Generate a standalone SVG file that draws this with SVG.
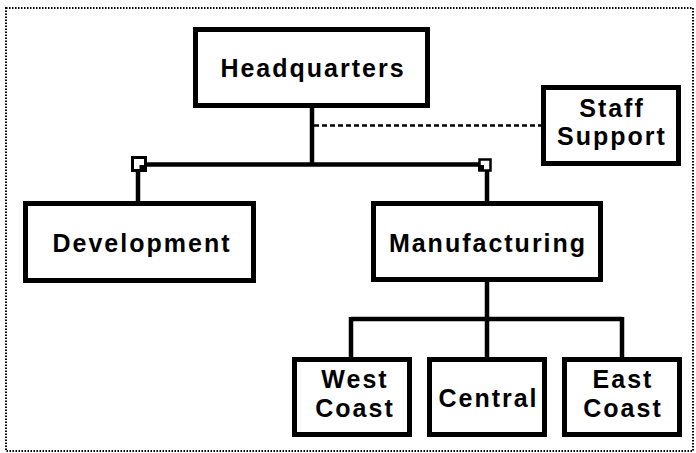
<svg xmlns="http://www.w3.org/2000/svg" width="696" height="453" viewBox="0 0 696 453">
<style>
.box{fill:#fff;stroke:#000;stroke-width:5}
.ln{stroke:#000;stroke-width:4.5;fill:none}
.dash{stroke:#000;stroke-width:2.5;stroke-dasharray:5 3;fill:none}
.border{fill:none;stroke:#000;stroke-width:2;stroke-dasharray:1.5 1.5}
text{font-family:"Liberation Sans",Arial,sans-serif;font-weight:bold;font-size:25px;letter-spacing:2px;text-anchor:middle;fill:#000}
</style>
<rect class="border" x="6" y="8" width="687" height="443"/>
<g id="connectors">
<line class="ln" x1="312" y1="106" x2="312" y2="165"/>
<line class="dash" x1="314" y1="125.5" x2="542" y2="125.5"/>
<line class="ln" x1="140" y1="164.5" x2="486" y2="164.5"/>
<line class="ln" x1="138" y1="168" x2="138" y2="203"/>
<line class="ln" x1="487" y1="168" x2="487" y2="203"/>
<rect x="132.5" y="157.5" width="13" height="13" fill="#fff" stroke="#000" stroke-width="3"/>
<rect x="139.5" y="165" width="7" height="7" fill="#000"/>
<rect x="479.5" y="159.5" width="11" height="11" fill="#fff" stroke="#000" stroke-width="2.5"/>
<rect x="478" y="165" width="6" height="6" fill="#000"/>
<line class="ln" x1="487" y1="280" x2="487" y2="319"/>
<line class="ln" x1="351" y1="319" x2="622" y2="319"/>
<line class="ln" x1="351" y1="317" x2="351" y2="359"/>
<line class="ln" x1="487" y1="317" x2="487" y2="359"/>
<line class="ln" x1="622" y1="317" x2="622" y2="359"/>
</g>
<g id="headquarters">
<rect class="box" x="195.5" y="29.5" width="232" height="76"/>
<text x="313" y="77">Headquarters</text>
</g>
<g id="staff-support">
<rect class="box" x="543.5" y="87.5" width="135" height="76"/>
<text x="612" y="117">Staff</text>
<text x="612" y="145">Support</text>
</g>
<g id="development">
<rect class="box" x="25.5" y="203.5" width="228" height="77"/>
<text x="142" y="252">Development</text>
</g>
<g id="manufacturing">
<rect class="box" x="373.5" y="203.5" width="227" height="76"/>
<text x="488" y="252">Manufacturing</text>
</g>
<g id="west-coast">
<rect class="box" x="294.5" y="359.5" width="115" height="75"/>
<text x="355" y="388">West</text>
<text x="355" y="417">Coast</text>
</g>
<g id="central">
<rect class="box" x="429.5" y="359.5" width="115" height="75"/>
<text x="488.5" y="407">Central</text>
</g>
<g id="east-coast">
<rect class="box" x="564.5" y="359.5" width="115" height="75"/>
<text x="623" y="388">East</text>
<text x="623" y="417">Coast</text>
</g>
</svg>
